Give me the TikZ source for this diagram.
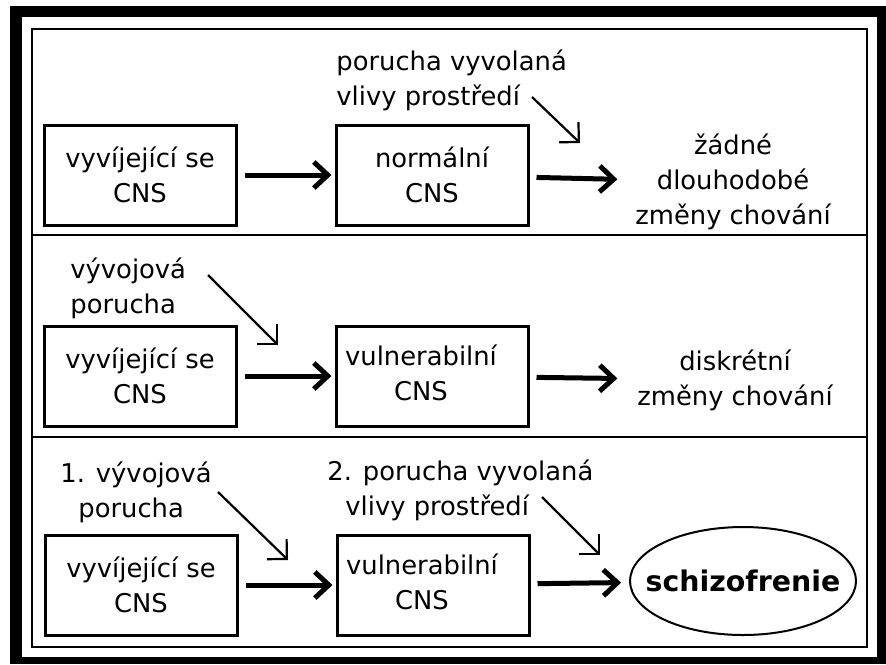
\documentclass[tikz,border=0pt]{standalone}
\usepackage{fontspec}
\setmainfont{DejaVu Sans}
\usepackage{tikz}
\usetikzlibrary{arrows.meta,shapes,positioning}

\begin{document}
\begin{tikzpicture}[x=0.5pt,y=-0.5pt,font=\fontsize{12.9}{17.5}\selectfont,>={Straight Barb[length=7pt,width=14pt]}]
 \tikzstyle{box}=[draw,line width=1.5pt,minimum width=96pt,minimum height=50pt,align=center,inner sep=0pt]
 \tikzstyle{note}=[inner sep=0pt,align=left,anchor=base west]
 \tikzstyle{result}=[inner sep=2pt,align=center]
 \tikzstyle{flow}=[-{Straight Barb[length=7pt,width=13pt]},line width=2.5pt,shorten <=3.5pt,shorten >=1.5pt]
 \tikzstyle{hint}=[->,line width=1.1pt]
 \tikzstyle{rule}=[line width=1.4pt]

 \useasboundingbox (0,0) rectangle (886,664);
 \fill (10,6) rectangle (886,664);
 \fill[white] (22,17) rectangle (877,657);
 \draw[rule] (32,29) rectangle (867,647);
 \draw[rule] (32,235) -- (867,235);
 \draw[rule] (32,437) -- (867,437);

 % bez vyvojove poruchy
 \node[box] (vyv1) at (140,175) {vyvíjející se\\CNS};
 \node[box] (norm) [right=48.5pt of vyv1] {normální\\CNS};
 \node[result] (nic) at (733,182) {žádné\\dlouhodobé\\změny chování};
 \node[note] (env1) at (336,105) {porucha vyvolaná\\vlivy prostředí};
 \coordinate (env1a) at (532,97);
 \coordinate (env1b) at (580,143);

 % jen vyvojova porucha
 \node[box] (vyv2) at (140,376) {vyvíjející se\\CNS};
 \node[box] (vuln2) [right=48.5pt of vyv2] {\begin{tabular}{@{}c@{\hspace{11pt}}}vulnerabilní\\CNS\end{tabular}};
 \node[result] (disk) at (735,380) {diskrétní\\změny chování};
 \node[note] (dev2) at (70,313) {vývojová\\porucha};
 \coordinate (dev2a) at (208,275);
 \coordinate (dev2b) at (278,345);

 % obe poruchy
 \node[box] (vyv3) at (141,585) {vyvíjející se\\CNS};
 \node[box] (vuln3) [right=48.5pt of vyv3] {\begin{tabular}{@{}c@{\hspace{11pt}}}vulnerabilní\\CNS\end{tabular}};
 \node[draw,ellipse,line width=1pt,minimum width=113pt,minimum height=54pt,inner xsep=-9pt,inner ysep=0pt,font=\fontsize{14.2}{17}\selectfont\bfseries] (schiz) at (743,581) {schizofrenie};
 \node[note] (dev3) at (60,517) {1. vývojová\\\hspace*{9pt}porucha};
 \node[note] (env3) at (327,515) {2. porucha vyvolaná\\\hspace*{9pt}vlivy prostředí};
 \coordinate (dev3a) at (218,492);
 \coordinate (dev3b) at (288,560);
 \coordinate (env3a) at (542,497);
 \coordinate (env3b) at (600,555);

 \path
 (vyv1) edge[flow] (norm)
 (norm) edge[flow,shorten >=6.8pt] (nic)
 (env1a) edge[hint] (env1b)
 (vyv2) edge[flow] (vuln2)
 (vuln2) edge[flow,shorten >=7.8pt] (disk)
 (dev2a) edge[hint] (dev2b)
 (vyv3) edge[flow] (vuln3)
 (vuln3) edge[flow,shorten >=4pt] (schiz)
 (dev3a) edge[hint] (dev3b)
 (env3a) edge[hint] (env3b);

\end{tikzpicture}
\end{document}
